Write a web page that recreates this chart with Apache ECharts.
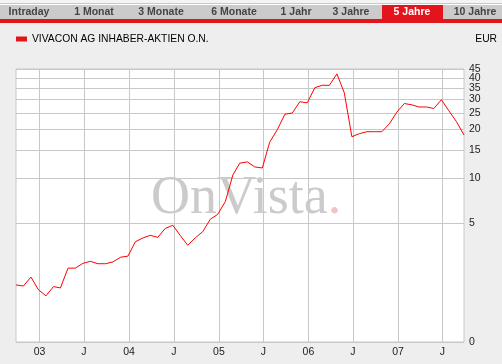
<!DOCTYPE html>
<html>
<head>
<meta charset="utf-8">
<script src="https://cdn.jsdelivr.net/npm/echarts@6/dist/echarts.min.js"></script>
<style>
html,body{margin:0;padding:0;background:#eeeeee;}
#chart{width:502px;height:364px;}
</style>
</head>
<body>
<div id="chart"></div>
<script>
// ---- data ----
const seriesName = 'VIVACON AG INHABER-AKTIEN O.N.';
const currency = 'EUR';
const dates = [
  '2002-09-27','2002-10-27','2002-11-27','2002-12-27',
  '2003-01-27','2003-02-27','2003-03-27','2003-04-27','2003-05-27','2003-06-27',
  '2003-07-27','2003-08-27','2003-09-27','2003-10-27','2003-11-27','2003-12-27',
  '2004-01-27','2004-02-27','2004-03-27','2004-04-27','2004-05-27','2004-06-27',
  '2004-07-27','2004-08-27','2004-09-27','2004-10-27','2004-11-27','2004-12-27',
  '2005-01-27','2005-02-27','2005-03-27','2005-04-27','2005-05-27','2005-06-27',
  '2005-07-27','2005-08-27','2005-09-27','2005-10-27','2005-11-27','2005-12-27',
  '2006-01-27','2006-02-27','2006-03-27','2006-04-27','2006-05-27','2006-06-27',
  '2006-07-27','2006-08-27','2006-09-27','2006-10-27','2006-11-27','2006-12-27',
  '2007-01-27','2007-02-27','2007-03-27','2007-04-27','2007-05-27','2007-06-27',
  '2007-07-27','2007-08-27','2007-09-27'
];
const prices = [
  1.51, 1.47, 1.82, 1.34,
  1.13, 1.45, 1.40, 2.21, 2.21, 2.44,
  2.54, 2.42, 2.42, 2.51, 2.75, 2.81,
  3.67, 3.92, 4.10, 3.96, 4.60, 4.86,
  4.10, 3.44, 3.93, 4.36, 5.36, 5.79,
  7.06, 10.52, 12.47, 12.70, 11.82, 11.64,
  16.75, 19.90, 24.58, 24.98, 29.10, 28.67,
  35.10, 36.30, 36.20, 42.18, 32.83, 18.07,
  18.84, 19.36, 19.36, 19.36, 21.60, 25.26,
  28.41, 27.88, 27.11, 27.11, 26.56, 29.89,
  25.78, 22.26, 18.50
];
const yTicks = [0, 5, 10, 15, 20, 25, 30, 35, 40, 45];
const yTicksMain = [0, 5, 10, 15, 20, 25, 30, 35, 45];
const yTicksExtra = [40];
const xTickDates = ['2003-01-01','2003-07-01','2004-01-01','2004-07-01','2005-01-01',
                    '2005-07-01','2006-01-01','2006-07-01','2007-01-01','2007-07-01'];
const xTickLabels = ['03','J','04','J','05','J','06','J','07','J'];
const tabs = ['Intraday','1 Monat','3 Monate','6 Monate','1 Jahr','3 Jahre','5 Jahre','10 Jahre'];
const activeTab = '5 Jahre';
const xMin = '2002-09-27', xMax = '2007-09-27';

// ---- helpers ----
const OFFSET = 1.4; // shifted-log price scale used by the chart
const tf = v => Math.log10(v + OFFSET);
const inv = t => 10 ** t - OFFSET;
const ts = s => { const [y, m, d] = s.split('-').map(Number); return Date.UTC(y, m - 1, d); };
const xTickTs = xTickDates.map(ts);

const chart = echarts.init(document.getElementById('chart'), null, {renderer: 'canvas'});

const tabCenters = [29, 94, 161, 234, 296, 351, 412, 475];
const g = [];
g.push({type: 'rect', shape: {x: 0, y: 0, width: 502, height: 3}, style: {fill: '#f4f4f4'}, silent: true});
g.push({type: 'rect', shape: {x: 0, y: 3, width: 502, height: 1}, style: {fill: '#c8c8c8'}, silent: true});
g.push({type: 'rect', shape: {x: 0, y: 4, width: 502, height: 1}, style: {fill: '#ffffff'}, silent: true});
g.push({type: 'rect', shape: {x: 0, y: 5, width: 502, height: 14}, style: {fill: '#cbcbcb'}, silent: true});
g.push({type: 'rect', shape: {x: 382, y: 5, width: 61, height: 14}, style: {fill: '#e3141b'}, silent: true});
g.push({type: 'rect', shape: {x: 0, y: 19, width: 502, height: 4}, style: {fill: '#e3141b'}, silent: true});
tabs.forEach((t, i) => {
  g.push({
    type: 'text', x: tabCenters[i], y: 12, silent: true,
    style: {text: t, fill: t === activeTab ? '#ffffff' : '#444444',
      font: 'bold 10.5px "Liberation Sans", Arial, sans-serif', align: 'center', verticalAlign: 'middle'}
  });
});
g.push({
  type: 'text', x: 497, y: 39, silent: true,
  style: {text: currency, fill: '#000', font: '10.3px "Liberation Sans", Arial, sans-serif', align: 'right', verticalAlign: 'middle'}
});
g.push({
  type: 'text', x: 151, y: 226, z: 1, silent: true,
  style: {
    text: '{a|OnVista}{b|.}', verticalAlign: 'bottom',
    rich: {
      a: {fontFamily: '"Liberation Serif", "Times New Roman", serif', fontSize: 54, fill: '#cbcbcb'},
      b: {fontFamily: '"Liberation Serif", "Times New Roman", serif', fontSize: 54, fill: '#f0c4c6'}
    }
  }
});

const yLabelStyle = {
  margin: 5, color: '#222', fontSize: 10.5,
  formatter: v => String(Math.round(inv(v)))
};

chart.setOption({
  animation: false,
  backgroundColor: '#eeeeee',
  textStyle: {fontFamily: '"Liberation Sans", Arial, sans-serif'},
  graphic: g,
  legend: {
    left: 16, top: 33, padding: 0, itemWidth: 11, itemHeight: 5, icon: 'rect',
    selectedMode: false,
    textStyle: {fontSize: 10.3, color: '#000', lineHeight: 12},
    data: [{name: seriesName, itemStyle: {color: '#e3141b'}}]
  },
  grid: {
    left: 16, right: 38, top: 69, bottom: 22,
    show: true, backgroundColor: '#ffffff', borderColor: '#c8c8c8', borderWidth: 1
  },
  xAxis: {
    type: 'value',
    min: ts(xMin), max: ts(xMax),
    axisLine: {show: false},
    axisTick: {show: false, customValues: xTickTs},
    splitLine: {show: true, lineStyle: {color: '#c8c8c8', width: 1}},
    axisLabel: {
      customValues: xTickTs,
      margin: 5, color: '#222', fontSize: 10.5,
      formatter: v => {
        const i = xTickTs.indexOf(v);
        return i >= 0 ? xTickLabels[i] : '';
      }
    }
  },
  yAxis: [{
    type: 'value', position: 'right',
    min: tf(0), max: tf(45),
    axisLine: {show: false},
    axisTick: {show: false, customValues: yTicks.map(tf)},
    splitLine: {show: true, lineStyle: {color: '#c8c8c8', width: 1}},
    axisLabel: Object.assign({customValues: yTicksMain.map(tf), showMaxLabel: true, showMinLabel: true}, yLabelStyle)
  }, {
    type: 'value', position: 'right',
    min: tf(0), max: tf(45),
    axisLine: {show: false},
    axisTick: {show: false, customValues: yTicksExtra.map(tf)},
    splitLine: {show: true, lineStyle: {color: '#c8c8c8', width: 1}},
    axisLabel: Object.assign({customValues: yTicksExtra.map(tf), showMaxLabel: true, showMinLabel: true}, yLabelStyle)
  }],
  series: [{
    name: seriesName, type: 'line', showSymbol: false, z: 3, yAxisIndex: 0,
    lineStyle: {color: '#ff0000', width: 1},
    itemStyle: {color: '#e3141b'},
    data: dates.map((d, i) => [ts(d), tf(prices[i])])
  }]
});
</script>
</body>
</html>
